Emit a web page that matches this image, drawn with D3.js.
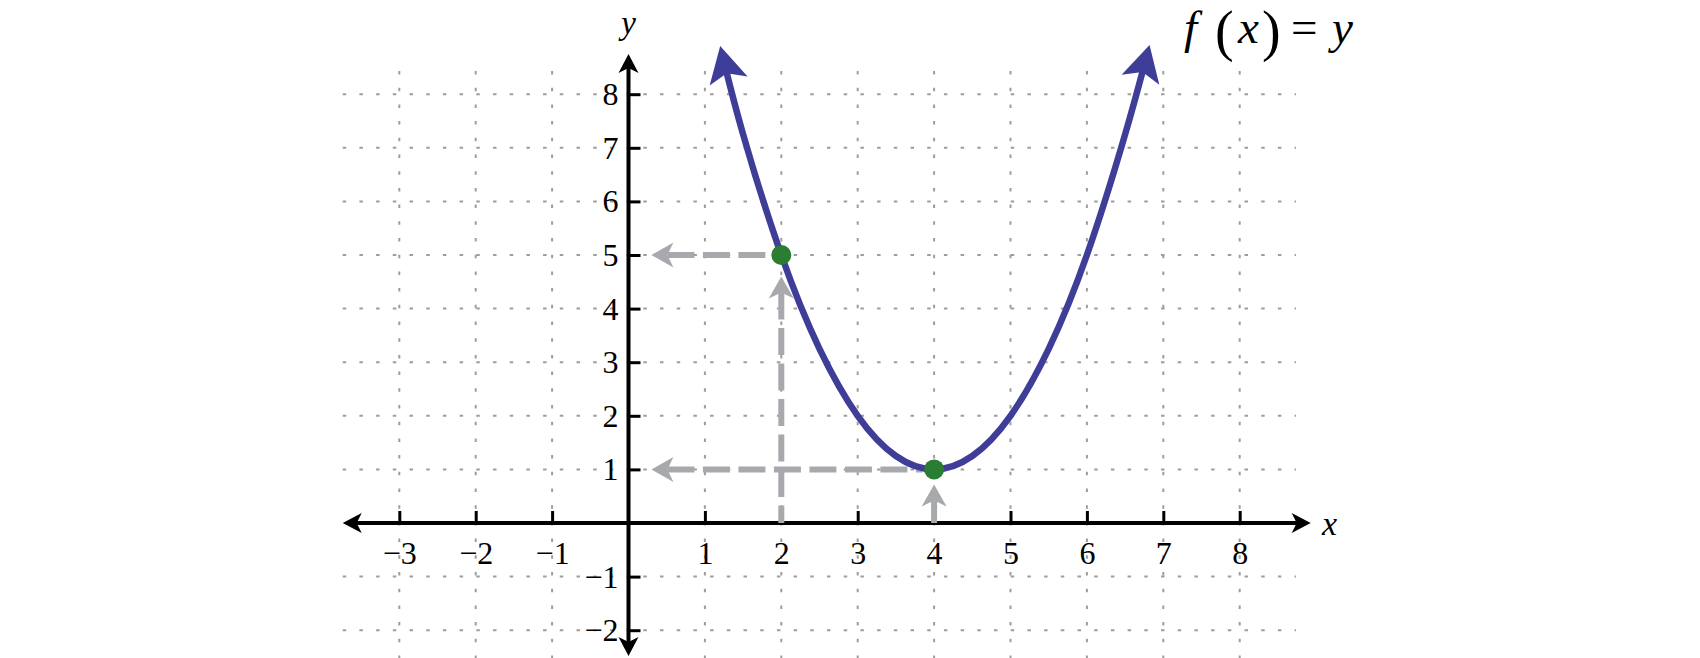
<!DOCTYPE html>
<html><head><meta charset="utf-8">
<script src="https://cdn.jsdelivr.net/npm/d3@7"></script>
<style>
html,body{margin:0;padding:0;background:#fff;overflow:hidden}
svg text{font-family:"Liberation Serif","Times New Roman",Times,serif;}
</style>
</head><body>
<svg id="chart" width="1700" height="658"></svg>
<script>
// ---- data ----
const xTicks = [-3, -2, -1, 1, 2, 3, 4, 5, 6, 7, 8];
const yTicks = [-2, -1, 1, 2, 3, 4, 5, 6, 7, 8];
const curveX = [1.2, 1.5, 2, 2.5, 3, 3.5, 4, 4.5, 5, 5.5, 6, 6.5, 6.82];
const curveY = [8.9, 7.25, 5, 3.25, 2, 1.25, 1, 1.25, 2, 3.25, 5, 7.25, 8.92];
const pointX = [2, 4];
const pointY = [5, 1];
const guideFromX = [2, 2, 4, 4];
const guideFromY = [0, 5, 0, 1];
const guideToX = [2, 0.3, 4, 0.3];
const guideToY = [4.6, 5, 0.72, 1];
const xLabel = "x", yLabel = "y";

// ---- layout ----
const svg = d3.select("#chart");
const x = d3.scaleLinear().domain([-3, 8]).range([399.3, 1239.7]);
const y = d3.scaleLinear().domain([-2, 8]).range([630.2, 94.2]);
const X0 = x(0), Y0 = y(0);
const gridCol = "#9d9d9d", guideCol = "#a7a9ac", curveCol = "#3e3e98", ptCol = "#2b7d32";

function arrowHead(tip, dir, L, W, N) {
  const n = [-dir[1], dir[0]];
  return [
    tip,
    [tip[0] - L * dir[0] + W * n[0], tip[1] - L * dir[1] + W * n[1]],
    [tip[0] - N * dir[0], tip[1] - N * dir[1]],
    [tip[0] - L * dir[0] - W * n[0], tip[1] - L * dir[1] - W * n[1]]
  ];
}
const poly = d3.line();

// ---- grid ----
const grid = svg.append("g").attr("stroke", gridCol).attr("stroke-width", 2)
  .attr("stroke-dasharray", "3.5 13.2");
grid.selectAll(".gh").data(yTicks).join("line")
  .attr("x1", 342.7).attr("x2", 1296).attr("y1", d => y(d)).attr("y2", d => y(d));
grid.selectAll(".gv").data(xTicks).join("line")
  .attr("y1", 71).attr("y2", 660).attr("x1", d => x(d)).attr("x2", d => x(d));

// ---- axes ----
const ax = svg.append("g");
const xAxis = d3.axisBottom(x).tickValues(xTicks).tickSizeInner(-12).tickSizeOuter(0).tickPadding(18);
const yAxis = d3.axisLeft(y).tickValues(yTicks).tickSizeInner(-12).tickSizeOuter(0).tickPadding(10);
const gx = ax.append("g").attr("transform", `translate(0,${Y0})`).call(xAxis);
const gy = ax.append("g").attr("transform", `translate(${X0},0)`).call(yAxis);
[gx, gy].forEach(g => {
  g.attr("font-family", null).attr("font-size", null);
  g.select(".domain").remove();
  g.selectAll(".tick line").attr("stroke", "#000").attr("stroke-width", 3);
  g.selectAll(".tick text").attr("fill", "#000").style("font-size", "32px");
});
gy.selectAll(".tick text").attr("dy", "0.33em");

ax.append("line").attr("x1", 352).attr("x2", 1300).attr("y1", Y0).attr("y2", Y0)
  .attr("stroke", "#000").attr("stroke-width", 4);
ax.append("line").attr("x1", X0).attr("x2", X0).attr("y1", 64).attr("y2", 646)
  .attr("stroke", "#000").attr("stroke-width", 4);
const axArrows = [
  arrowHead([1310.7, Y0], [1, 0], 19, 10, 14),
  arrowHead([342.7, Y0], [-1, 0], 19, 10, 14),
  arrowHead([X0, 54], [0, -1], 19, 10, 14),
  arrowHead([X0, 656], [0, 1], 19, 10, 14)
];
ax.selectAll(".aa").data(axArrows).join("path").attr("d", d => poly(d) + "Z").attr("fill", "#000");

svg.append("text").text(xLabel).attr("x", 1322).attr("y", 535)
  .style("font-style", "italic").style("font-size", "34px");
svg.append("text").text(yLabel).attr("x", X0).attr("y", 34).attr("text-anchor", "middle")
  .style("font-style", "italic").style("font-size", "33px");

// ---- guides ----
const guides = svg.append("g");
guideFromX.forEach((fx, i) => {
  const s = [x(fx), y(guideFromY[i])], t = [x(guideToX[i]), y(guideToY[i])];
  const len = Math.hypot(t[0] - s[0], t[1] - s[1]);
  const d = [(t[0] - s[0]) / len, (t[1] - s[1]) / len];
  const inset = guideFromY[i] === 0 ? 0 : 12;
  const a = [s[0] + d[0] * inset, s[1] + d[1] * inset];
  const b = [t[0] - d[0] * 16, t[1] - d[1] * 16];
  guides.append("line").attr("x1", b[0]).attr("y1", b[1]).attr("x2", a[0]).attr("y2", a[1])
    .attr("stroke", guideCol).attr("stroke-width", 6).attr("stroke-dasharray", "27 8.5");
  guides.append("path").attr("d", poly(arrowHead(t, d, 22, 12.5, 16)) + "Z").attr("fill", guideCol);
});

// ---- curve ----
const pts = curveX.map((v, i) => [x(v), y(curveY[i])]);
const curve = svg.append("path")
  .attr("d", d3.line().curve(d3.curveNatural)(pts))
  .attr("fill", "none").attr("stroke", curveCol).attr("stroke-width", 6.5);
const node = curve.node();
const L = node.getTotalLength();
curve.attr("stroke-dasharray", `0 20 ${L - 40} 20`);
function endArrow(atLen, backLen) {
  const p = node.getPointAtLength(atLen), q = node.getPointAtLength(backLen);
  const l = Math.hypot(p.x - q.x, p.y - q.y);
  return arrowHead([p.x, p.y], [(p.x - q.x) / l, (p.y - q.y) / l], 36, 19.5, 28);
}
svg.selectAll(".ca").data([endArrow(0, 14), endArrow(L, L - 14)]).join("path")
  .attr("d", d => poly(d) + "Z").attr("fill", curveCol);

// ---- points ----
svg.selectAll(".pt").data(pointX).join("circle")
  .attr("cx", d => x(d)).attr("cy", (d, i) => y(pointY[i])).attr("r", 10).attr("fill", ptCol);

// ---- title f(x) = y ----
const title = svg.append("g").attr("fill", "#000");
const tParts = [
  {t: "f", x: 1184, y: 43, s: 47, it: true},
  {t: "(", x: 1215, y: 50, s: 56, it: false},
  {t: "x", x: 1238, y: 43, s: 47, it: true},
  {t: ")", x: 1262, y: 50, s: 56, it: false},
  {t: "=", x: 1291, y: 43, s: 47, it: false},
  {t: "y", x: 1332, y: 43, s: 47, it: true}
];
title.selectAll("text").data(tParts).join("text").text(d => d.t)
  .attr("x", d => d.x).attr("y", d => d.y)
  .style("font-size", d => d.s + "px")
  .style("font-style", d => d.it ? "italic" : "normal");
</script>
</body></html>
